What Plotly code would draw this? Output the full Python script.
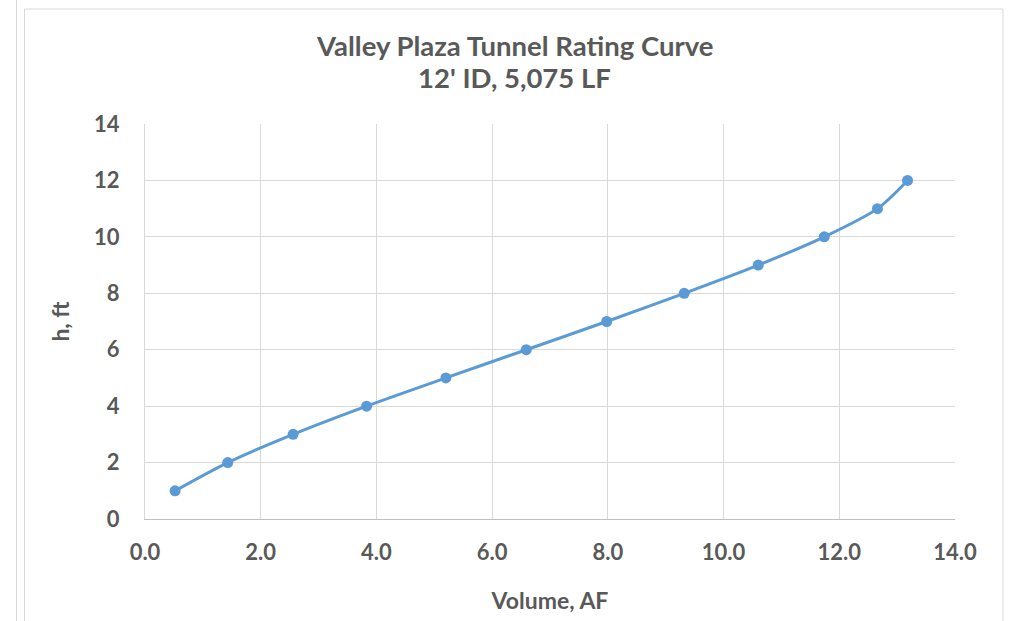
import plotly.graph_objects as go

volume_af = [0.52, 1.43, 2.56, 3.83, 5.20, 6.59, 7.98, 9.32, 10.60, 11.74, 12.66, 13.18]
h_ft = [1, 2, 3, 4, 5, 6, 7, 8, 9, 10, 11, 12]

x_ticks = [0, 2, 4, 6, 8, 10, 12, 14]
y_ticks = [0, 2, 4, 6, 8, 10, 12, 14]

title_lines = ["Valley Plaza Tunnel Rating Curve", "12' ID, 5,075 LF"]

FONT = "Lato"
TXT = "#595959"
GRID = "#d9d9d9"
BLUE = "#5b9bd5"

fig = go.Figure()
fig.add_trace(go.Scatter(
    x=volume_af, y=h_ft, mode="lines+markers",
    line=dict(color=BLUE, width=3, shape="spline", smoothing=0.8),
    marker=dict(color=BLUE, size=11),
    showlegend=False, hoverinfo="x+y",
))

W, H = 1020, 621
L, R, T, B = 145, 65, 124, 102
pw, ph = W - L - R, H - T - B

def px(x):
    return (x - L) / pw

def py(y):
    return (H - B - y) / ph

frame = dict(color="#d9d9d9", width=1)
fig.add_shape(type="rect", xref="paper", yref="paper",
              x0=px(24.5), x1=px(1003), y0=py(9), y1=py(640),
              line=frame, fillcolor="rgba(0,0,0,0)", layer="below")
fig.add_shape(type="line", xref="paper", yref="paper",
              x0=px(16.5), x1=px(16.5), y0=py(-5), y1=py(640), line=frame)

for text, yc in zip(title_lines, [45, 77]):
    fig.add_annotation(
        text=f"<b>{text}</b>", xref="paper", yref="paper",
        x=px(514), y=py(yc), xanchor="center", yanchor="middle",
        showarrow=False, font=dict(family=FONT, size=27.5, color=TXT),
    )

fig.update_layout(
    width=W, height=H,
    margin=dict(l=L, r=R, t=T, b=B, autoexpand=False),
    paper_bgcolor="white", plot_bgcolor="white",
    font=dict(family=FONT, color=TXT),
    xaxis=dict(
        range=[0, 14], tickvals=x_ticks,
        ticktext=[f"<b>{v:.1f}</b>" for v in x_ticks],
        showgrid=True, gridcolor=GRID, gridwidth=1,
        zeroline=False, showline=True, linecolor="#bfbfbf", linewidth=1,
        ticks="", ticklabelstandoff=14,
        tickfont=dict(family=FONT, size=22, color=TXT),
        title=dict(text="<b>Volume, AF</b>", standoff=28,
                   font=dict(family=FONT, size=23, color=TXT)),
    ),
    yaxis=dict(
        range=[0, 14], tickvals=y_ticks,
        ticktext=[f"<b>{v}</b>" for v in y_ticks],
        showgrid=True, gridcolor=GRID, gridwidth=1,
        zeroline=False, showline=True, linecolor=GRID, linewidth=1,
        ticks="", ticklabelstandoff=20,
        tickfont=dict(family=FONT, size=22, color=TXT),
        title=dict(text="<b>h, ft</b>", standoff=18,
                   font=dict(family=FONT, size=23, color=TXT)),
    ),
)

fig.write_html("out.html")
